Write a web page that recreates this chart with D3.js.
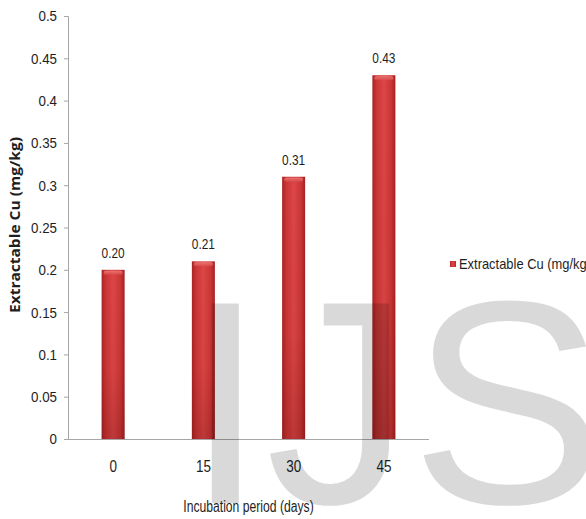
<!DOCTYPE html>
<html>
<head>
<meta charset="utf-8">
<script src="https://cdn.jsdelivr.net/npm/d3@7/dist/d3.min.js"></script>
<style>
  html, body { margin: 0; padding: 0; background: #ffffff; }
  svg { display: block; }
  .lbl { font-family: "Liberation Sans", Arial, sans-serif; fill: #1e1e1e; }
</style>
</head>
<body>
<svg id="chart" width="586" height="519"></svg>
<script>
// Extractable Cu over the incubation period
const days = ["0", "15", "30", "45"];
const extractableCu = [0.20, 0.21, 0.31, 0.43];
const valueLabels = ["0.20", "0.21", "0.31", "0.43"];
const yTicks = [0, 0.05, 0.1, 0.15, 0.2, 0.25, 0.3, 0.35, 0.4, 0.45, 0.5];
const seriesName = "Extractable Cu (mg/kg)";
const xTitle = "Incubation period (days)";

const svg = d3.select("#chart");
const plotLeft = 68, plotRight = 429, plotTop = 16, plotBottom = 439;

// Squeeze text horizontally to give a narrow face
function condense(sel, factor) {
  sel.each(function () {
    const w = this.getComputedTextLength();
    d3.select(this).attr("textLength", w * factor).attr("lengthAdjust", "spacingAndGlyphs");
  });
}

const x = d3.scaleBand().domain(days).range([plotLeft, plotRight])
  .paddingInner(0.745).paddingOuter(0.3725);
const y = d3.scaleLinear().domain([0, 0.5]).range([plotBottom, plotTop]);

// Gradients for the cylinder-like bars
const defs = svg.append("defs");
const gh = defs.append("linearGradient").attr("id", "barH").attr("x1", 0).attr("x2", 1).attr("y1", 0).attr("y2", 0);
[["0%", "#a82424"], ["18%", "#cb3535"], ["50%", "#dc4646"], ["82%", "#cb3535"], ["100%", "#a42222"]]
  .forEach(([o, c]) => gh.append("stop").attr("offset", o).attr("stop-color", c));
const gv = defs.append("linearGradient").attr("id", "barV").attr("x1", 0).attr("x2", 0).attr("y1", 0).attr("y2", 1);
[["0%", 0], ["60%", 0.04], ["100%", 0.2]]
  .forEach(([o, a]) => gv.append("stop").attr("offset", o).attr("stop-color", "#400000").attr("stop-opacity", a));
const gt = defs.append("linearGradient").attr("id", "barTop").attr("x1", 0).attr("x2", 0).attr("y1", 0).attr("y2", 1);
[["0%", "#f08080"], ["100%", "#d84848"]]
  .forEach(([o, c]) => gt.append("stop").attr("offset", o).attr("stop-color", c));

// Y axis
const yAxis = d3.axisLeft(y).tickValues(yTicks).tickSize(4).tickPadding(7)
  .tickFormat(d => String(+d.toFixed(2)));
const yg = svg.append("g").attr("transform", `translate(${plotLeft},0)`).call(yAxis);
yg.select(".domain").attr("stroke", "#a6a6a6");
yg.selectAll(".tick line").attr("stroke", "#a6a6a6");
yg.selectAll(".tick text").attr("class", "lbl").attr("font-size", 15.5).attr("fill", "#1e1e1e");
condense(yg.selectAll(".tick text"), 0.86);

// X axis
const xAxis = d3.axisBottom(x).tickSize(0).tickPadding(22);
const xg = svg.append("g").attr("transform", `translate(0,${plotBottom})`).call(xAxis);
xg.select(".domain").attr("stroke", "#a6a6a6").attr("d", `M${plotLeft},0.5H${plotRight}`);
xg.selectAll(".tick text").attr("class", "lbl").attr("font-size", 16).attr("fill", "#1e1e1e");
condense(xg.selectAll(".tick text"), 0.84);

// Bars
const data = days.map((d, i) => ({ day: d, value: extractableCu[i], label: valueLabels[i] }));
const bars = svg.append("g");
bars.selectAll("rect.body").data(data).join("rect").attr("class", "body")
  .attr("x", d => x(d.day)).attr("width", x.bandwidth())
  .attr("y", d => y(d.value)).attr("height", d => y(0) - y(d.value))
  .attr("fill", "url(#barH)");
bars.selectAll("rect.shade").data(data).join("rect").attr("class", "shade")
  .attr("x", d => x(d.day)).attr("width", x.bandwidth())
  .attr("y", d => y(d.value)).attr("height", d => y(0) - y(d.value))
  .attr("fill", "url(#barV)");
bars.selectAll("rect.cap").data(data).join("rect").attr("class", "cap")
  .attr("x", d => x(d.day) + 2).attr("width", x.bandwidth() - 4)
  .attr("y", d => y(d.value) + 1).attr("height", 4).attr("rx", 2)
  .attr("fill", "url(#barTop)").attr("opacity", 0.8);

// Value labels
const vl = svg.append("g").selectAll("text").data(data).join("text").attr("class", "lbl")
  .attr("x", d => x(d.day) + x.bandwidth() / 2).attr("y", d => y(d.value) - 12)
  .attr("text-anchor", "middle").attr("font-size", 15).text(d => d.label);
condense(vl, 0.79);

// Axis titles
svg.append("text")
  .attr("transform", "translate(20,225) rotate(-90)")
  .attr("text-anchor", "middle").attr("font-family", "'Open Sans', 'DejaVu Sans', sans-serif")
  .attr("font-weight", "bold").attr("font-size", 13.5).attr("fill", "#1e1e1e")
  .attr("textLength", 176).attr("lengthAdjust", "spacingAndGlyphs").text(seriesName);
const xt = svg.append("text").attr("class", "lbl")
  .attr("x", (plotLeft + plotRight) / 2).attr("y", 512).attr("text-anchor", "middle")
  .attr("font-size", 16).text(xTitle);
condense(xt, 0.76);

// Legend
const lg = svg.append("g").attr("transform", "translate(450,261)");
lg.append("rect").attr("width", 6).attr("height", 6).attr("fill", "url(#barH)");
const lt = lg.append("text").attr("class", "lbl").attr("x", 9).attr("y", 8)
  .attr("font-size", 14.5).text(seriesName);
condense(lt, 0.89);

// Publisher watermark
svg.append("text").attr("x", 185).attr("y", 503)
  .attr("font-family", "'Liberation Sans', Arial, sans-serif").attr("font-size", 290)
  .attr("fill", "#000").attr("fill-opacity", 0.15).text("IJS");
</script>
</body>
</html>
